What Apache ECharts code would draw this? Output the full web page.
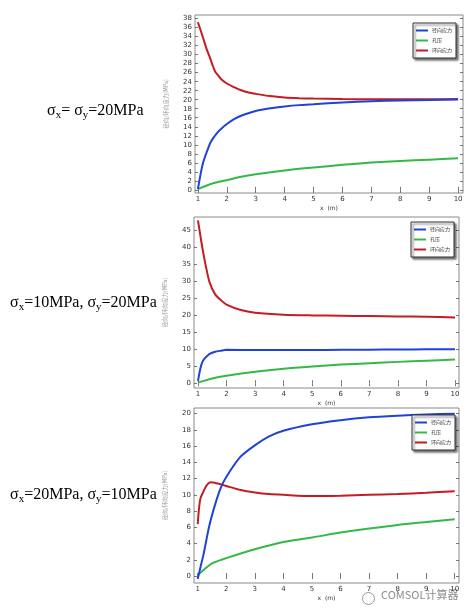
<!DOCTYPE html>
<html>
<head>
<meta charset="utf-8">
<script src="https://cdn.jsdelivr.net/npm/echarts@6/dist/echarts.min.js"></script>
<style>
html,body{margin:0;padding:0;background:#fff;}
#c{width:475px;height:615px;}
</style>
</head>
<body>
<div id="c"></div>
<script>
// ---------- data ----------
const seriesNames = ['径向应力', '孔压', '环向应力'];
const yAxisTitle = '径向/环向应力(MPa)';
const xAxisTitle = 'x  (m)';
const xTicks = [1, 2, 3, 4, 5, 6, 7, 8, 9, 10];
const yTicks1 = [0,2,4,6,8,10,12,14,16,18,20,22,24,26,28,30,32,34,36,38];
const yTicks2 = [0,5,10,15,20,25,30,35,40,45];
const yTicks3 = [0,2,4,6,8,10,12,14,16,18,20];
const caseLabels = ['σx= σy=20MPa', 'σx=10MPa, σy=20MPa', 'σx=20MPa, σy=10MPa'];

// Chart 1: σx = σy = 20 MPa
const c1RadialX = [1, 1.17, 1.4, 1.5, 1.66, 1.8, 2, 2.25, 2.56, 3, 3.5, 4, 4.5, 5, 6, 7, 8, 9, 10];
const c1RadialY = [0.15, 5.8, 10.0, 11.2, 12.6, 13.5, 14.6, 15.7, 16.6, 17.5, 18.1, 18.5, 18.8, 19.0, 19.4, 19.65, 19.85, 19.95, 20.05];
const c1PoreX = [1, 1.5, 2, 2.5, 3, 4, 5, 6, 7, 8, 9, 10];
const c1PoreY = [0.15, 1.4, 2.15, 2.9, 3.45, 4.3, 4.95, 5.55, 6.05, 6.4, 6.7, 7.0];
const c1HoopX = [1, 1.1, 1.2, 1.3, 1.4, 1.5, 1.6, 1.7, 1.8, 2, 2.25, 2.5, 2.75, 3, 3.5, 4, 4.5, 5, 6, 7, 8, 9, 10];
const c1HoopY = [37.2, 35.3, 33.3, 31.3, 29.6, 27.8, 26.2, 25.4, 24.6, 23.6, 22.8, 22.1, 21.6, 21.3, 20.8, 20.5, 20.35, 20.25, 20.15, 20.1, 20.1, 20.1, 20.15];

// Chart 2: σx = 10 MPa, σy = 20 MPa
const c2RadialX = [1, 1.15, 1.4, 1.6, 1.8, 2, 3, 4, 5, 6, 7, 8, 9, 10];
const c2RadialY = [0.7, 6.2, 8.6, 9.3, 9.6, 9.85, 9.8, 9.8, 9.8, 9.85, 9.9, 9.95, 10.0, 10.0];
const c2PoreX = [1, 1.5, 2, 3, 4, 5, 6, 7, 8, 9, 10];
const c2PoreY = [0.2, 1.4, 2.2, 3.4, 4.3, 4.95, 5.5, 5.9, 6.3, 6.65, 7.0];
const c2HoopX = [1, 1.1, 1.2, 1.3, 1.4, 1.6, 1.8, 2, 2.5, 3, 4, 5, 6, 7, 8, 9, 10];
const c2HoopY = [48.0, 42.6, 37.7, 33.5, 29.9, 26.2, 24.5, 23.2, 21.6, 20.8, 20.2, 20.0, 19.9, 19.8, 19.7, 19.6, 19.4];

// Chart 3: σx = 20 MPa, σy = 10 MPa
const c3RadialX = [1, 1.1, 1.2, 1.4, 1.6, 1.8, 2, 2.5, 3, 3.5, 4, 5, 6, 7, 8, 9, 10];
const c3RadialY = [-0.37, 1.15, 2.6, 6.1, 8.7, 10.8, 12.2, 14.7, 16.1, 17.2, 17.9, 18.7, 19.2, 19.55, 19.75, 19.9, 20.0];
const c3PoreX = [1, 1.5, 2, 3, 4, 5, 6, 7, 8, 9, 10];
const c3PoreY = [0.1, 1.55, 2.2, 3.3, 4.2, 4.75, 5.35, 5.85, 6.3, 6.65, 7.0];
const c3HoopX = [1, 1.05, 1.1, 1.2, 1.3, 1.45, 1.6, 1.8, 2, 2.5, 3, 3.5, 4, 5, 6, 7, 8, 9, 10];
const c3HoopY = [6.4, 8.5, 9.6, 10.4, 11.1, 11.55, 11.5, 11.3, 11.1, 10.6, 10.3, 10.1, 10.0, 9.85, 9.9, 10.0, 10.1, 10.25, 10.45];

// ---------- build ----------
const colors = ['#2142d6', '#35b847', '#c41c22'];
const zip = (xs, ys) => xs.map((x, i) => [x, ys[i]]);

const panels = [
  { grid: {left: 195, top: 15, width: 268, height: 178}, x: [0.9, 10.17], y: [-0.7, 38.8], yTicks: yTicks1,
    data: [zip(c1RadialX, c1RadialY), zip(c1PoreX, c1PoreY), zip(c1HoopX, c1HoopY)],
    legend: {left: 413, top: 23}, label: {left: 47, top: 103} },
  { grid: {left: 194, top: 217, width: 265, height: 171}, x: [0.86, 10.14], y: [-1.4, 49], yTicks: yTicks2,
    data: [zip(c2RadialX, c2RadialY), zip(c2PoreX, c2PoreY), zip(c2HoopX, c2HoopY)],
    legend: {left: 411, top: 222}, label: {left: 10, top: 295} },
  { grid: {left: 194, top: 408, width: 265, height: 175}, x: [0.87, 10.15], y: [-0.86, 20.7], yTicks: yTicks3,
    data: [zip(c3RadialX, c3RadialY), zip(c3PoreX, c3PoreY), zip(c3HoopX, c3HoopY)],
    legend: {left: 412, top: 415}, label: {left: 10, top: 487} }
];

const tickStyle = {show: true, inside: true, length: 3, lineStyle: {color: '#555', width: 0.8}};
const labelFont = {fontFamily: 'DejaVu Sans', fontSize: 7, color: '#333'};

function richLabel(str) {
  return str.split(/(σ[xy])/).filter(t => t.length).map(t =>
    /^σ[xy]$/.test(t) ? '{a|σ}{s|' + t[1] + '}' : '{a|' + t + '}').join('');
}

const grid = [], xAxis = [], yAxis = [], series = [], legend = [], graphic = [];
panels.forEach((p, i) => {
  grid.push(Object.assign({show: true, borderColor: '#8a8a8a', borderWidth: 1, backgroundColor: '#fff'}, p.grid));
  xAxis.push({type: 'value', gridIndex: i, position: 'bottom', min: p.x[0], max: p.x[1],
    axisLine: {show: false}, splitLine: {show: false},
    axisTick: Object.assign({customValues: xTicks}, tickStyle),
    axisLabel: Object.assign({customValues: xTicks, margin: 3}, labelFont),
    name: xAxisTitle, nameLocation: 'middle', nameGap: 12,
    nameTextStyle: {fontFamily: 'DejaVu Sans', fontSize: 6, color: '#333'}});
  xAxis.push({type: 'value', gridIndex: i, position: 'top', min: p.x[0], max: p.x[1],
    axisLine: {show: false}, splitLine: {show: false},
    axisTick: Object.assign({customValues: xTicks}, tickStyle),
    axisLabel: {show: false}});
  yAxis.push({type: 'value', gridIndex: i, position: 'left', min: p.y[0], max: p.y[1],
    axisLine: {show: false}, splitLine: {show: false},
    axisTick: Object.assign({customValues: p.yTicks}, tickStyle),
    axisLabel: Object.assign({customValues: p.yTicks, margin: 3}, labelFont),
    name: yAxisTitle, nameLocation: 'middle', nameGap: 26, nameRotate: 90,
    nameTextStyle: {fontFamily: 'Noto Sans CJK SC', fontSize: 5.5, color: '#999'}});
  yAxis.push({type: 'value', gridIndex: i, position: 'right', min: p.y[0], max: p.y[1],
    axisLine: {show: false}, splitLine: {show: false},
    axisTick: Object.assign({customValues: p.yTicks}, tickStyle),
    axisLabel: {show: false}});
  p.data.forEach((d, k) => {
    series.push({type: 'line', name: seriesNames[k], xAxisIndex: 2 * i, yAxisIndex: 2 * i,
      data: d, symbol: 'none', smooth: 0.25, color: colors[k],
      lineStyle: {width: 2, color: colors[k]}, z: k === 0 ? 3 : 2});
  });
  legend.push({data: seriesNames, orient: 'vertical', left: p.legend.left, top: p.legend.top,
    icon: 'rect', itemWidth: 12, itemHeight: 2, itemGap: 3, padding: [4, 4, 4, 3],
    backgroundColor: '#fff', borderColor: '#333', borderWidth: 1,
    shadowColor: 'rgba(0,0,0,0.55)', shadowOffsetX: 2, shadowOffsetY: 2, shadowBlur: 2,
    textStyle: {fontFamily: 'Noto Sans CJK SC', fontSize: 5, lineHeight: 7, color: '#333', padding: [0, 0, 0, -1]},
    selectedMode: false});
  graphic.push({type: 'text', left: p.label.left, top: p.label.top,
    style: {text: richLabel(caseLabels[i]), rich: {
      a: {fontFamily: 'Liberation Serif', fontSize: 16, lineHeight: 20, fill: '#000'},
      s: {fontFamily: 'Liberation Serif', fontSize: 11, lineHeight: 11, verticalAlign: 'bottom', fill: '#000'}
    }}});
});

graphic.push({type: 'text', left: 381, top: 589,
  style: {text: 'COMSOL计算器', fontFamily: 'Noto Sans CJK SC', fontSize: 11, fill: '#8c8c8c'}});
graphic.push({type: 'circle', left: 360, top: 590, shape: {r: 6},
  style: {fill: 'none', stroke: '#9a9a9a', lineWidth: 1}});

const chart = echarts.init(document.getElementById('c'), null, {renderer: 'canvas'});
chart.setOption({
  animation: false,
  backgroundColor: '#fff',
  grid, xAxis, yAxis, series, legend, graphic
});
</script>
</body>
</html>
